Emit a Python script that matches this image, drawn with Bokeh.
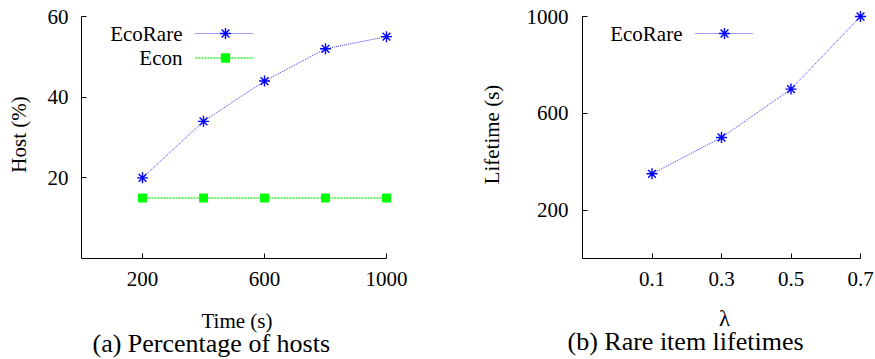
from bokeh.plotting import figure
from bokeh.layouts import row
from bokeh.models import Range1d, FixedTicker, Label, Title
from bokeh.embed import file_html
from bokeh.resources import INLINE

# ---- data ----
time_s = [200, 400, 600, 800, 1000]
ecorare_host = [20, 34, 44, 52, 55]
econ_host = [15, 15, 15, 15, 15]
x_ticks_a = [200, 600, 1000]
y_ticks_a = [20, 40, 60]

lam = [0.1, 0.3, 0.5, 0.7]
ecorare_life = [350, 500, 700, 1000]
x_ticks_b = [0.1, 0.3, 0.5, 0.7]
y_ticks_b = [200, 600, 1000]

FONT = "Liberation Serif"
BLUE_LINE = "#3a3aff"
BLUE = "#0000ff"
GREEN = "#00ff00"
GREEN_LINE = "#33ee33"
PAD = 6  # px of room beyond the last tick so end markers are not clipped


def style(p):
    p.outline_line_color = None
    p.grid.visible = False
    for ax in p.axis:
        ax.major_tick_in = 5
        ax.major_tick_out = 0
        ax.minor_tick_in = 0
        ax.minor_tick_out = 0
        ax.axis_line_color = "black"
        ax.axis_line_width = 1
        ax.major_tick_line_color = "black"
        ax.major_label_text_font = FONT
        ax.major_label_text_font_size = "21px"
        ax.major_label_text_color = "black"
        ax.axis_label_text_font = FONT
        ax.axis_label_text_font_size = "21px"
        ax.axis_label_text_font_style = "normal"
        ax.axis_label_text_color = "black"


def caption(text, offset):
    return Title(text=text, align="left", offset=offset, text_font=FONT,
                 text_font_size="26px", text_font_style="normal",
                 text_color="black", standoff=-18)


H = 358
TICKTOP = 16          # page y of the top tick
FT = TICKTOP - PAD    # frame top (shared by both panels)
FB = 258              # frame bottom

# ---------------- panel (a) ----------------
FA_L = 81
FA_TICKEND = 386
FA_R = FA_TICKEND + PAD
WA = 430
xa0, xa1 = 0, 1000
ya0, ya1 = 0, 60
xa1r = xa0 + (xa1 - xa0) * (FA_R - FA_L) / (FA_TICKEND - FA_L)
ya1r = ya0 + (ya1 - ya0) * (FB - FT) / (FB - TICKTOP)
pa = figure(width=WA, height=H, output_backend="svg", toolbar_location=None,
            x_range=Range1d(xa0, xa1r), y_range=Range1d(ya0, ya1r),
            min_border_left=FA_L, min_border_right=WA - FA_R, min_border_top=FT,
            min_border_bottom=H - FB)
style(pa)
pa.xaxis.bounds = (xa0, xa1)
pa.yaxis.bounds = (ya0, ya1)
pa.xaxis.ticker = FixedTicker(ticks=x_ticks_a)
pa.yaxis.ticker = FixedTicker(ticks=y_ticks_a)
pa.xaxis.axis_label = "Time (s)"
pa.yaxis.axis_label = "Host (%)"
pa.xaxis.major_label_standoff = 13
pa.xaxis.axis_label_standoff = 20
pa.yaxis.major_label_standoff = 13
pa.yaxis.axis_label_standoff = 14


def ax_(px):
    return xa0 + (px - FA_L) / (FA_TICKEND - FA_L) * (xa1 - xa0)


def ay_(py):
    return ya0 + (FB - py) / (FB - TICKTOP) * (ya1 - ya0)


pa.line(time_s, ecorare_host, line_color=BLUE_LINE, line_width=1, line_dash="1 1")
pa.scatter(time_s, ecorare_host, marker="asterisk", size=11, line_color=BLUE, line_width=1.4)
pa.line(time_s, econ_host, line_color=GREEN_LINE, line_width=1.5, line_dash="2 1")
pa.scatter(time_s, econ_host, marker="square", size=8, fill_color=GREEN, line_color=GREEN)

# legend (gnuplot style: text then sample)
for name, py, col, lcol, dash, mk, sz in [
        ("EcoRare", 33, BLUE, BLUE_LINE, "1 1", "asterisk", 11),
        ("Econ", 57.5, GREEN, GREEN_LINE, "2 1", "square", 8)]:
    pa.add_layout(Label(x=ax_(182), y=ay_(py), text=name, text_align="right",
                        text_baseline="middle", text_font=FONT, text_font_size="21px",
                        text_color="black"))
    pa.line([ax_(195), ax_(253)], [ay_(py), ay_(py)], line_color=lcol,
            line_width=1.5 if mk == "square" else 1, line_dash=dash)
    pa.scatter([ax_(225)], [ay_(py)], marker=mk, size=sz, line_color=col,
               fill_color=col, line_width=1.4)

pa.add_layout(caption("(a) Percentage of hosts", 11), "below")

# ---------------- panel (b) ----------------
FB_L = 582 - WA
FB_TICKEND = 860 - WA
FB_R = FB_TICKEND + PAD
WB = 875 - WA
xb0, xb1 = -0.1, 0.7
yb0, yb1 = 0, 1000
xb1r = xb0 + (xb1 - xb0) * (FB_R - FB_L) / (FB_TICKEND - FB_L)
yb1r = yb0 + (yb1 - yb0) * (FB - FT) / (FB - TICKTOP)
pb = figure(width=WB, height=H, output_backend="svg", toolbar_location=None,
            x_range=Range1d(xb0, xb1r), y_range=Range1d(yb0, yb1r),
            min_border_left=FB_L, min_border_right=WB - FB_R, min_border_top=FT,
            min_border_bottom=H - FB)
style(pb)
pb.xaxis.bounds = (xb0, xb1)
pb.yaxis.bounds = (yb0, yb1)
pb.xaxis.ticker = FixedTicker(ticks=x_ticks_b)
pb.yaxis.ticker = FixedTicker(ticks=y_ticks_b)
pb.xaxis.axis_label = "λ"
pb.xaxis.axis_label_text_font_size = "23px"
pb.yaxis.axis_label = "Lifetime (s)"
pb.xaxis.major_label_standoff = 13
pb.xaxis.axis_label_standoff = 17
pb.yaxis.major_label_standoff = 14
pb.yaxis.axis_label_standoff = 20


def bx_(px):
    return xb0 + (px - WA - FB_L) / (FB_TICKEND - FB_L) * (xb1 - xb0)


def by_(py):
    return yb0 + (FB - py) / (FB - TICKTOP) * (yb1 - yb0)


pb.line(lam, ecorare_life, line_color=BLUE_LINE, line_width=1, line_dash="1 1")
pb.scatter(lam, ecorare_life, marker="asterisk", size=11, line_color=BLUE, line_width=1.4)

pb.add_layout(Label(x=bx_(682), y=by_(33), text="EcoRare", text_align="right",
                    text_baseline="middle", text_font=FONT, text_font_size="21px",
                    text_color="black"))
pb.line([bx_(695), bx_(752)], [by_(33), by_(33)], line_color=BLUE_LINE,
        line_width=1, line_dash="1 1")
pb.scatter([bx_(724)], [by_(33)], marker="asterisk", size=11, line_color=BLUE,
           line_width=1.4)

pb.add_layout(caption("(b) Rare item lifetimes", -15), "below")

layout = row(pa, pb)
open("out.html", "w").write(file_html(layout, INLINE))
